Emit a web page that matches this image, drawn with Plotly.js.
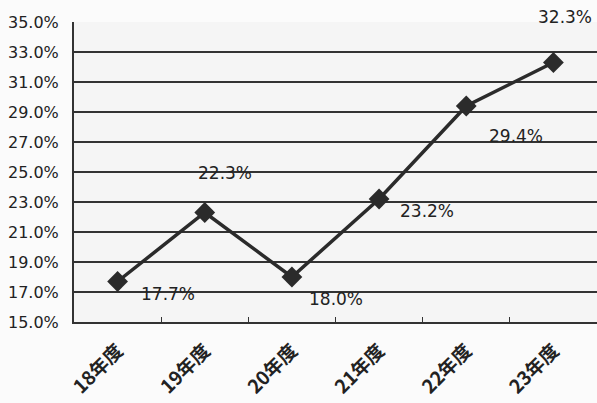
<!DOCTYPE html>
<html><head><meta charset="utf-8">
<script src="https://cdn.plot.ly/plotly-3.0.1.min.js"></script>
<style>body{margin:0;background:#fff}#c{width:597px;height:403px}</style>
</head><body><div id="c"></div>
<script>
var categories = ["18年度","19年度","20年度","21年度","22年度","23年度"];
var values = [17.7, 22.3, 18.0, 23.2, 29.4, 32.3];
var yTicks = [15,17,19,21,23,25,27,29,31,33,35];
var labelOffsets = [[50,-12],[20,40],[44,-22],[48,-12],[50,-30],[12,46]];

var annotations = values.map(function(v,i){
  return {x: categories[i], y: v, xref:'x', yref:'y', text: v.toFixed(1)+'%', showarrow:false,
    xshift: labelOffsets[i][0], yshift: labelOffsets[i][1],
    font:{family:'DejaVu Sans, sans-serif', size:17, color:'#222'}};
});

Plotly.newPlot('c', [{
  x: categories, y: values, type:'scatter', mode:'lines+markers',
  line:{color:'#2b2b2b', width:3.5},
  marker:{symbol:'diamond', size:16, color:'#2b2b2b'},
  cliponaxis:false
}], {
  width:597, height:403,
  margin:{l:74, r:0, t:22, b:81},
  paper_bgcolor:'#fbfbfb', plot_bgcolor:'#f5f5f5',
  showlegend:false,
  font:{family:'DejaVu Sans, sans-serif', color:'#222'},
  xaxis:{type:'category', range:[-0.5,5.5], tickson:'boundaries', ticks:'inside', ticklen:5, tickcolor:'#333',
    tickangle:-45, showline:true, linecolor:'#333', linewidth:2, showgrid:false, zeroline:false,
    ticklabelstandoff:8,
    tickfont:{family:'Noto Sans CJK JP, sans-serif', size:19, weight:'bold', color:'#222'}},
  yaxis:{range:[15,35], tickvals:yTicks, ticktext:yTicks.map(function(t){return t.toFixed(1)+'%';}),
    ticks:'inside', ticklen:4, tickcolor:'#333', showline:true, linecolor:'#333', linewidth:2,
    showgrid:true, gridcolor:'#333', gridwidth:1.5, zeroline:false, ticklabelstandoff:10,
    tickfont:{family:'DejaVu Sans, sans-serif', size:16, color:'#222'}},
  annotations: annotations
}, {displayModeBar:false, staticPlot:true});
</script></body></html>
